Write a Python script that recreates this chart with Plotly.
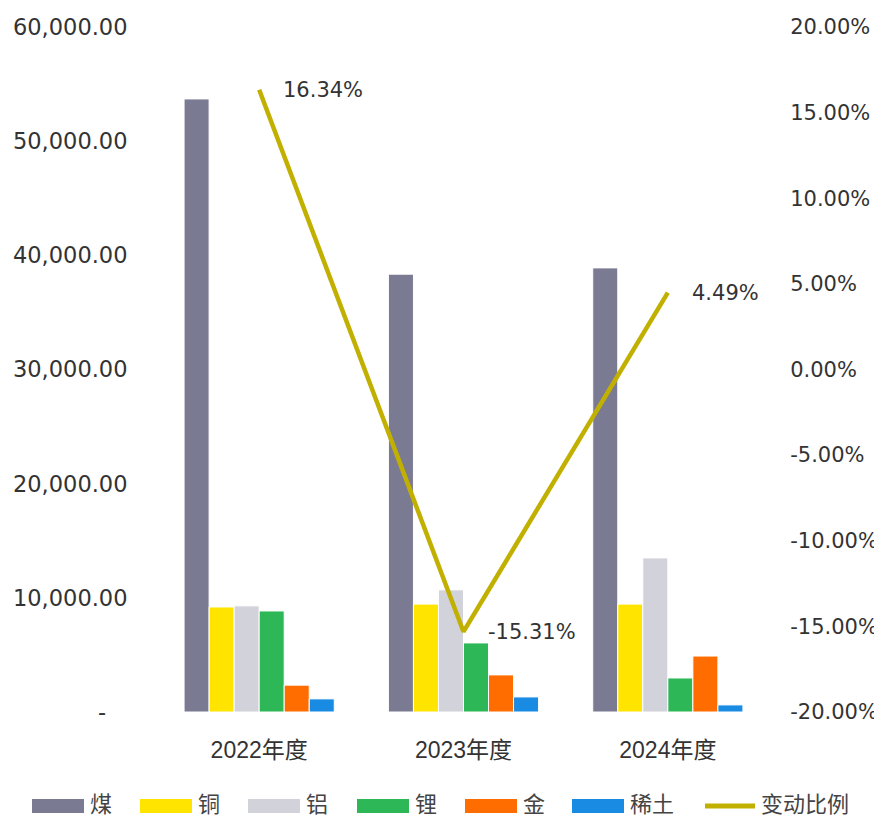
import plotly.graph_objects as go

categories = ["2022年度", "2023年度", "2024年度"]
series_names = ["煤", "铜", "铝", "锂", "金", "稀土"]
coal = [53700, 38350, 38900]
copper = [9200, 9450, 9450]
aluminum = [9300, 10700, 13500]
lithium = [8850, 6050, 2980]
gold = [2350, 3250, 4900]
rare_earth = [1150, 1320, 620]
change_name = "变动比例"
change_pct = [16.34, -15.31, 4.49]

left_ticks = [0, 10000, 20000, 30000, 40000, 50000, 60000]
left_ticktext = ["-\u00a0\u00a0\u00a0"] + [f"{v:,.2f}" for v in left_ticks[1:]]
right_ticks = [-20, -15, -10, -5, 0, 5, 10, 15, 20]
right_ticktext = [f"{v:.2f}%" for v in right_ticks]

colors = ["#7A7A93", "#FFE400", "#D2D2DA", "#2DB757", "#FF6D00", "#1A8BE3"]
line_color = "#C2B000"
text_color = "#333333"
legend_text_color = "#444444"
num_font = "DejaVu Sans, Verdana, sans-serif"
cjk_font = "Liberation Sans, Noto Sans CJK SC, sans-serif"
legend_font = "Noto Sans CJK SC, sans-serif"

# page has an 8px body margin: figure is laid out in page pixels minus 8
OFF = 8
W, H = 882 - OFF, 817 - OFF
L, R, T, B = 157 - OFF, 882 - 770, 27 - OFF, 817 - 712
pw, ph = W - L - R, H - T - B

def px(x):
    return (x - OFF - L) / pw

def py(y):
    return (H - B - (y - OFF)) / ph

fig = go.Figure()
values = [coal, copper, aluminum, lithium, gold, rare_earth]
for name, vals, c in zip(series_names, values, colors):
    fig.add_trace(go.Bar(
        x=categories, y=vals, name=name,
        marker=dict(color=c, line=dict(color="white", width=1)),
        showlegend=False,
    ))

fig.add_trace(go.Scatter(
    x=categories, y=change_pct, name=change_name, yaxis="y2",
    mode="lines", line=dict(color=line_color, width=4.5),
    showlegend=False,
))

for cat, v in zip(categories, change_pct):
    fig.add_annotation(
        x=cat, y=v, yref="y2", text=f"{v:.2f}%", showarrow=False,
        xanchor="left", yanchor="middle", xshift=22,
        font=dict(family=num_font, size=21, color=text_color),
    )

# custom legend (page-pixel layout of the swatches)
legend_items = series_names + [change_name]
legend_colors = colors + [line_color]
legend_x = [32, 140, 248, 357, 465, 572, 703]
for i, (name, c, sx) in enumerate(zip(legend_items, legend_colors, legend_x)):
    if i < len(series_names):
        fig.add_shape(type="rect", xref="paper", yref="paper",
                      x0=px(sx), x1=px(sx + 52), y0=py(813), y1=py(799),
                      fillcolor=c, line=dict(width=0))
    else:
        fig.add_shape(type="line", xref="paper", yref="paper",
                      x0=px(sx + 2), x1=px(sx + 52), y0=py(806), y1=py(806),
                      line=dict(color=c, width=5))
    fig.add_annotation(xref="paper", yref="paper", x=px(sx + 56), y=py(802),
                       text=name, showarrow=False, xanchor="left", yanchor="middle",
                       font=dict(family=legend_font, size=22, color=legend_text_color))

fig.update_layout(
    width=W, height=H,
    margin=dict(l=L, r=R, t=T, b=B, autoexpand=False),
    paper_bgcolor="white", plot_bgcolor="white",
    barmode="group", bargap=0.265, bargroupgap=0,
    xaxis=dict(
        tickfont=dict(family=cjk_font, size=23, color=text_color),
        showgrid=False, showline=False, zeroline=False, automargin=False,
        ticks="outside", ticklen=17, tickcolor="rgba(0,0,0,0)",
    ),
    yaxis=dict(
        range=[0, 60000], tickvals=left_ticks, ticktext=left_ticktext,
        tickfont=dict(family=num_font, size=22.5, color=text_color),
        showgrid=False, zeroline=False, showline=False, automargin=False,
        ticks="outside", ticklen=24, tickcolor="rgba(0,0,0,0)",
    ),
    yaxis2=dict(
        range=[-20, 20], tickvals=right_ticks, ticktext=right_ticktext,
        overlaying="y", side="right",
        tickfont=dict(family=num_font, size=21, color=text_color),
        showgrid=False, zeroline=False, showline=False, automargin=False,
        ticks="outside", ticklen=15, tickcolor="rgba(0,0,0,0)",
    ),
    showlegend=False,
)

fig.write_html("out.html")
